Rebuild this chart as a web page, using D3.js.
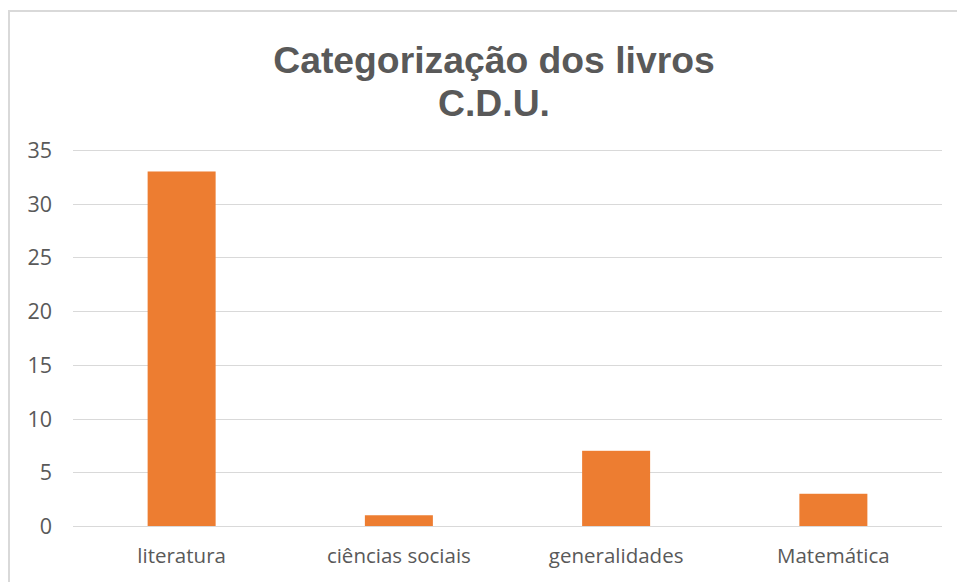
<!DOCTYPE html>
<html>
<head>
<meta charset="utf-8">
<script src="https://cdn.jsdelivr.net/npm/d3@7"></script>
<style>
  html, body { margin: 0; padding: 0; background: #fff; }
  svg { display: block; }
</style>
</head>
<body>
<svg id="chart" width="957" height="582"></svg>
<script>
const titleLines = ["Categorização dos livros", "C.D.U."];
const categories = ["literatura", "ciências sociais", "generalidades", "Matemática"];
const values = [33, 1, 7, 3];
const yTicks = [0, 5, 10, 15, 20, 25, 30, 35];

const svg = d3.select("#chart");
const W = 957, H = 582;
const margin = { left: 73, right: 15, top: 150, bottom: 56 };

// chart frame
svg.append("rect")
  .attr("x", 9).attr("y", 11)
  .attr("width", 990).attr("height", 620)
  .attr("fill", "#fff")
  .attr("stroke", "#D9D9D9")
  .attr("stroke-width", 2);

const x = d3.scaleBand()
  .domain(categories)
  .range([margin.left, W - margin.right])
  .paddingInner(0.687)
  .paddingOuter(0.687 / 2);

const y = d3.scaleLinear()
  .domain([0, 35])
  .range([H - margin.bottom, margin.top]);

// gridlines
svg.append("g")
  .selectAll("line")
  .data(yTicks)
  .join("line")
  .attr("x1", margin.left)
  .attr("x2", W - margin.right)
  .attr("y1", d => Math.round(y(d)) + 0.5)
  .attr("y2", d => Math.round(y(d)) + 0.5)
  .attr("stroke", "#D9D9D9")
  .attr("stroke-width", 1);

// y axis labels
const yAxis = d3.axisLeft(y).tickValues(yTicks).tickSize(0).tickPadding(0);
const gy = svg.append("g")
  .attr("transform", `translate(52,0)`)
  .call(yAxis);
gy.select(".domain").remove();
gy.selectAll("text")
  .attr("font-family", "'Open Sans', sans-serif")
  .attr("font-size", 21.5)
  .attr("fill", "#595959")
  .attr("dy", "0.35em");

// bars
svg.append("g")
  .selectAll("rect")
  .data(values)
  .join("rect")
  .attr("x", (d, i) => x(categories[i]))
  .attr("width", x.bandwidth())
  .attr("y", d => y(d))
  .attr("height", d => y(0) - y(d))
  .attr("fill", "#ED7D31");

// x axis labels
const xAxis = d3.axisBottom(x).tickSize(0).tickPadding(0);
const gx = svg.append("g")
  .attr("transform", `translate(0,${y(0)})`)
  .call(xAxis);
gx.select(".domain").remove();
gx.selectAll("text")
  .attr("font-family", "'Open Sans', sans-serif")
  .attr("font-size", 20.5)
  .attr("fill", "#595959")
  .attr("y", 37)
  .attr("dy", 0);

// title
svg.append("g")
  .selectAll("text")
  .data(titleLines)
  .join("text")
  .attr("x", 494)
  .attr("y", (d, i) => 73 + i * 43)
  .attr("text-anchor", "middle")
  .attr("font-family", "'Liberation Sans', Arial, sans-serif")
  .attr("font-weight", "bold")
  .attr("font-size", 37.3)
  .attr("fill", "#595959")
  .text(d => d);
</script>
</body>
</html>
